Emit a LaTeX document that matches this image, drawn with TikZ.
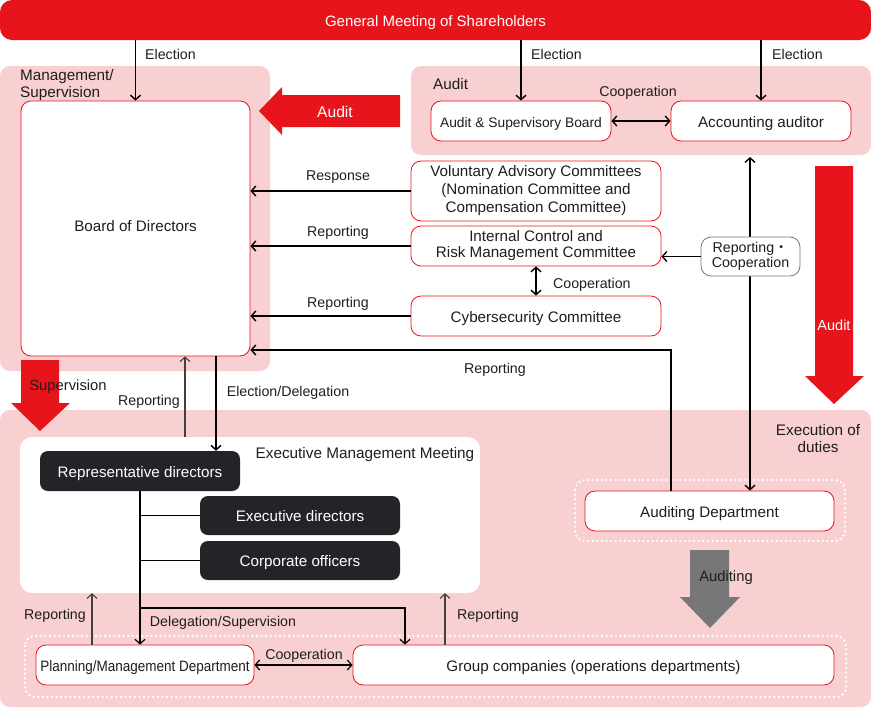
\documentclass[tikz,border=0pt]{standalone}
\usepackage{fontspec}
\setmainfont{Liberation Sans}
\newfontfamily\cjk{Noto Sans CJK JP}
\usetikzlibrary{arrows.meta}
\definecolor{cred}{HTML}{E8141B}
\definecolor{cpink}{HTML}{F9D0D1}
\definecolor{cdark}{HTML}{222428}
\definecolor{ctext}{HTML}{1E1E1E}
\definecolor{cgray}{HTML}{777777}
\newcommand\bxstrut{\rule[-3.6pt]{0pt}{20pt}}
\tikzset{
  panel/.style={fill=cpink, rounded corners=10pt},
  wboxbase/.style={draw=cred, fill=white, rounded corners=10pt, line width=0.8pt, text=ctext, align=center, inner sep=0pt, font=\fontsize{15.2}{17.5}\selectfont},
  wbox/.style={wboxbase, execute at begin node=\bxstrut},
  dbox/.style={fill=cdark, rounded corners=8pt, text=white, inner sep=0pt, font=\fontsize{15.2}{17.5}\selectfont, execute at begin node=\bxstrut},
  lbl/.style={text=ctext, inner sep=0pt, yshift=-1.5pt, font=\fontsize{14.2}{16}\selectfont},
  plbl/.style={text=ctext, inner sep=0pt, font=\fontsize{15.3}{17}\selectfont},
  conn/.style={draw=black, line width=1.4pt, -{Straight Barb[length=4.5pt,width=10pt]}},
  dconn/.style={draw=black, line width=1.4pt, {Straight Barb[length=4.5pt,width=10pt]}-{Straight Barb[length=4.5pt,width=10pt]}},
  tconn/.style={draw=ctext!85!white, line width=1.1pt, -{Straight Barb[length=4.5pt,width=10pt]}},
  plain/.style={draw=black, line width=1.1pt},
  dots/.style={draw=white, line width=2.6pt, dash pattern=on 0pt off 4.6pt, line cap=round, rounded corners=10pt},
}
\begin{document}
\begin{tikzpicture}[x=1pt,y=-1pt]
\useasboundingbox (0,0) rectangle (871,710);
% panels
\fill[panel] (0,66) rectangle (270,371);
\fill[panel] (411,66) rectangle (871,155);
\fill[panel] (0,410) rectangle (871,707);
\node[plbl, anchor=north west, align=left] (mgmtlbl) at (20,69.5) {Management/\\Supervision};
\node[plbl, anchor=west] (auditlbl) at (433,84) {Audit};
\node[plbl, align=center] (execlbl) at (818,438.5) {Execution of\\duties};

% top bar
\node[fill=cred, rounded corners=12pt, minimum width=871pt, minimum height=40pt, inner sep=0pt, text=white, font=\fontsize{15}{17}\selectfont, execute at begin node=\bxstrut] (gm) at (435.5,20) {General Meeting of Shareholders};

% main boxes
\node[wboxbase, minimum width=229pt, minimum height=255pt] (board) at (135.5,228.5) {\rule[-6pt]{0pt}{0pt}Board of Directors};
\node[wbox, minimum width=180pt, minimum height=40pt, font=\fontsize{13.8}{16}\selectfont] (asb) at (521,121) {Audit \& Supervisory Board};
\node[wbox, minimum width=180pt, minimum height=40pt] (acc) at (761,121) {Accounting auditor};
\node[wbox, minimum width=250pt, minimum height=60pt, font=\fontsize{15.2}{18}\selectfont] (vac) at (536,191) {Voluntary Advisory Committees\\(Nomination Committee and\\Compensation Committee)};
\node[wbox, minimum width=250pt, minimum height=40pt, font=\fontsize{15.2}{16.5}\selectfont] (icr) at (536,246) {Internal Control and\\Risk Management Committee};
\node[wbox, minimum width=250pt, minimum height=40pt] (cyb) at (536,316) {Cybersecurity Committee};

% execution area
\node[fill=white, rounded corners=12pt, minimum width=460pt, minimum height=156pt, inner sep=0pt] (emm) at (250,515) {};
\node[plbl] (emmlbl) at (365,455) {Executive Management Meeting};
\node[dbox, minimum width=200pt, minimum height=40pt] (rep) at (140,471) {Representative directors};
\node[dbox, minimum width=200pt, minimum height=39pt] (exd) at (300,515.5) {Executive directors};
\node[dbox, minimum width=200pt, minimum height=39pt] (cor) at (300,560.5) {Corporate officers};

\draw[dots] (575,480) rectangle (845,541);
\node[wbox, minimum width=249pt, minimum height=40pt] (aud) at (709.5,511) {Auditing Department};
\draw[dots] (25,636) rectangle (846,697);
\node[wbox, minimum width=218pt, minimum height=40pt, font=\fontsize{15}{17}\selectfont] (plan) at (145,665) {\addfontfeatures{FakeStretch=0.9}Planning/Management Department};
\node[wbox, minimum width=481pt, minimum height=40pt] (grp) at (593.5,665) {Group companies (operations departments)};

% big arrows
\fill[cred] (400,95) -- (282,95) -- (282,87) -- (259,111) -- (282,135) -- (282,127) -- (400,127) -- cycle;
\node[text=white, font=\fontsize{15.6}{17}\selectfont] (auditL) at (335,111.5) {Audit};
\fill[cred] (815,166) -- (853,166) -- (853,376) -- (864,376) -- (834,404) -- (805,376) -- (815,376) -- cycle;
\node[text=white, font=\fontsize{14.5}{17}\selectfont] (auditD) at (834,325) {Audit};
\fill[cred] (21,360) -- (59,360) -- (59,403) -- (70,403) -- (40,431) -- (11,403) -- (21,403) -- cycle;
\node[plbl, font=\fontsize{14.8}{17}\selectfont] (supl) at (68,387) {Supervision};
\fill[cgray] (690,550) -- (729,550) -- (729,597) -- (740,597) -- (710,628) -- (680,597) -- (690,597) -- cycle;
\node[plbl, font=\fontsize{14.8}{17}\selectfont] (audl) at (726,578) {Auditing};

% election arrows
\draw[conn] (gm.south -| board.north) -- (board.north);
\node[lbl, anchor=west] (el1) at (145,53) {Election};
\draw[conn] (gm.south -| asb.north) -- (asb.north);
\node[lbl, anchor=west] (el2) at (531,53) {Election};
\draw[conn] (gm.south -| acc.north) -- (acc.north);
\node[lbl, anchor=west] (el3) at (772,53) {Election};

% cooperation
\draw[dconn] (asb.east) -- (acc.west);
\node[lbl] (co1) at (638,91) {Cooperation};

% committees to board
\draw[conn] (vac.west) -- (vac.west -| board.east);
\node[lbl] (resp) at (338,176) {Response};
\draw[conn] (icr.west) -- (icr.west -| board.east);
\node[lbl] (rep1) at (338,231) {Reporting};
\draw[conn] (cyb.west) -- (cyb.west -| board.east);
\node[lbl] (rep2) at (338,302) {Reporting};
\draw[dconn] (icr.south) -- (cyb.north);
\node[lbl, anchor=west] (co2) at (553,283) {Cooperation};

% vertical audit line
\coordinate (vtop) at (750,157);
\draw[dconn] (vtop) -- (aud.north -| vtop);
\node[draw=cgray, fill=white, rounded corners=10pt, line width=0.8pt, minimum width=99pt, minimum height=39pt, inner sep=0pt, align=center, text=ctext, font=\fontsize{14.2}{15.5}\selectfont] (rc) at (750.5,256.5) {Reporting{\cjk ・}\\Cooperation};
\draw[conn] (rc.west) -- (rc.west -| icr.east);

% reporting from auditing dept
\coordinate (audL) at (671,0);
\coordinate (repY) at (0,350);
\draw[conn] (aud.north -| audL) -- (audL |- repY) -- (board.east |- repY);
\node[lbl] (rep3) at (495,368) {Reporting};

% board <-> exec
\coordinate (eDel) at (216,0);
\draw[conn] (board.south -| eDel) -- (rep.north -| eDel);
\node[lbl] (edl) at (288,391) {Election/Delegation};
\coordinate (eRep) at (185,0);
\draw[tconn] (emm.north -| eRep) -- (board.south -| eRep);
\node[lbl] (rep4) at (149,400) {Reporting};

% internal lines
\draw[plain] (rep.south |- exd.west) -- (exd.west);
\draw[plain] (rep.south |- cor.west) -- (cor.west);
\draw[conn, line width=1.2pt] (rep.south) -- (rep.south |- plan.north);
\coordinate (dsY) at (0,608);
\coordinate (grpIn) at (405,0);
\draw[conn, line width=1.2pt] (rep.south |- dsY) -- (grpIn |- dsY) -- (grpIn |- grp.north);
\node[lbl] (dsl) at (223,621) {Delegation/Supervision};

\coordinate (pRep) at (92,0);
\draw[tconn] (plan.north -| pRep) -- (emm.south -| pRep);
\node[lbl] (rep5) at (55,614) {Reporting};
\coordinate (gRep) at (445,0);
\draw[tconn] (grp.north -| gRep) -- (emm.south -| gRep);
\node[lbl] (rep6) at (488,614) {Reporting};

\draw[dconn, line width=1.2pt] (plan.east) -- (grp.west);
\node[lbl] (co3) at (304,654) {Cooperation};
\end{tikzpicture}
\end{document}
